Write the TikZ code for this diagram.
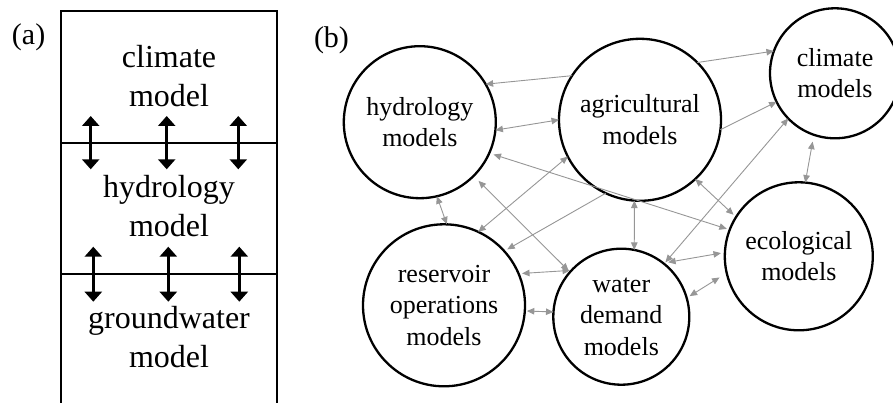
\documentclass[tikz,border=0pt]{standalone}
\usepackage{fontspec}
\setmainfont{Liberation Serif}
\usetikzlibrary{arrows.meta}
\definecolor{linkgray}{RGB}{150,150,150}
\begin{document}
\begin{tikzpicture}[x=1pt,y=-1pt,
  every node/.style={inner sep=0pt,outer sep=0pt},
  model/.style={circle,draw=black,line width=2.3pt,align=center,
    font=\fontsize{26}{31.5}\selectfont},
  layertext/.style={align=center,font=\fontsize{32}{39}\selectfont},
  panel/.style={anchor=base west,font=\fontsize{30}{36}\selectfont},
  gtip/.tip={Triangle[length=7.5pt,width=6.5pt]},
  link/.style={draw=linkgray,line width=0.9pt,gtip-gtip},
  oneway/.style={draw=linkgray,line width=0.9pt,-gtip},
  btip/.tip={Triangle[length=10pt,width=17pt]},
  coupling/.style={draw=black,line width=3.2pt,btip-btip},
  frame/.style={draw=black,line width=2pt}
]
\useasboundingbox (0,0) rectangle (893,403);

% ---------- (a) stacked, coupled models ----------
\node[panel] (lblA) at (12,45) {(a)};
\draw[frame] (61,403) -- (61,11.3) -- (277.3,11.3) -- (277.3,403);
\draw[frame] (61,142.7) -- (277.3,142.7);
\draw[frame] (61,274.3) -- (277.3,274.3);

\node[layertext] (climA) at (169,76.5) {climate\\model};
\node[layertext] (hydA) at (169,205.8) {hydrology\\model};
\node[layertext] (gwA) at (169,337.4) {groundwater\\model};

\coordinate (u1t) at (90.7,116);   \coordinate (u1b) at (90.7,169.3);
\coordinate (u2t) at (166.7,116);  \coordinate (u2b) at (166.7,169.3);
\coordinate (u3t) at (238.3,116);  \coordinate (u3b) at (238.3,169.3);
\coordinate (l1t) at (93.3,246.7); \coordinate (l1b) at (93.3,301.7);
\coordinate (l2t) at (168.3,246.7);\coordinate (l2b) at (168.3,301.7);
\coordinate (l3t) at (239.3,246.7);\coordinate (l3b) at (239.3,301.7);
\foreach \p in {u1,u2,u3,l1,l2,l3}
  \draw[coupling] (\p t) -- (\p b);

% ---------- (b) network of models ----------
\node[panel] (lblB) at (314,48) {(b)};

\node[model,minimum size=152pt] (hyd) at (419.8,122.2) {hydrology\\models};
\node[model,minimum size=162pt] (agr) at (640,119.8) {agricultural\\models};
\node[model,minimum size=130pt] (cli) at (835,73.3) {climate\\models};
\node[model,minimum size=148pt] (eco) at (798.8,256.3) {ecological\\models};
\node[model,minimum size=162pt] (res) at (444,305.3) {reservoir\\operations\\models};
\node[model,minimum size=136pt] (wat) at (621.3,316.7) {water\\demand\\models};

% one-way links
\draw[oneway] (agr.147) -- (hyd.30);
\draw[oneway] (agr.45) -- (cli.160);
\draw[oneway] (agr.-7) -- (cli.206);
\draw[oneway,shorten >=3.5pt] (agr.245) -- (res.42);

% two-way links
\draw[link] (hyd.-6) -- (agr.180);
\draw[link,shorten <=4.5pt,shorten >=3pt] (hyd.-24) -- (eco.159);
\draw[link] (hyd.-77) -- (res.88);
\draw[link,shorten <=7pt,shorten >=2pt] (hyd.-45) -- (wat.139);
\draw[link] (agr.207) -- (res.65);
\draw[link] (agr.266.5) -- (wat.79);
\draw[link,shorten >=3.4pt] (agr.-47) -- (eco.148);
\draw[link,shorten >=2pt] (cli.224) -- (wat.51.5);
\draw[link,shorten <=7pt] (cli.251) -- (eco.85);
\draw[link,shorten <=3.5pt,shorten >=1.5pt] (res.23) -- (wat.137.5);
\draw[link,shorten <=2pt] (res.-4) -- (wat.176);
\draw[link,shorten <=5pt,shorten >=4pt] (wat.52) -- (eco.177);
\draw[link,shorten <=3.5pt,shorten >=8.5pt] (wat.16) -- (eco.193);
\end{tikzpicture}
\end{document}
